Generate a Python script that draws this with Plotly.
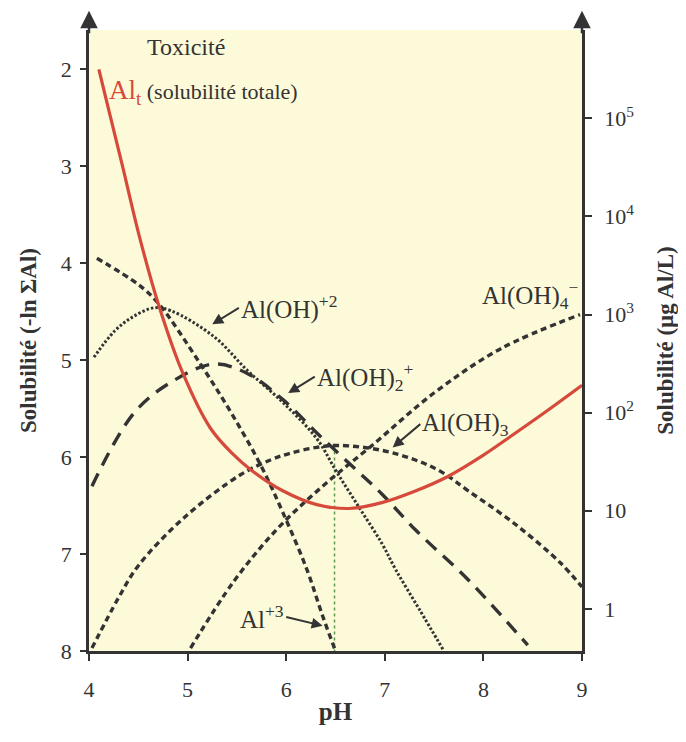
import plotly.graph_objects as go

# ---------------- data ----------------
ph_alt = [4.10, 4.20, 4.34, 4.51, 4.70, 4.95, 5.23, 5.45, 5.64, 5.97, 6.31, 6.64, 6.97, 7.31, 7.64, 8.00, 8.30, 8.65, 9.00]
val_alt = [2.00, 2.42, 3.00, 3.72, 4.41, 5.13, 5.70, 5.96, 6.13, 6.35, 6.49, 6.53, 6.47, 6.35, 6.20, 5.98, 5.77, 5.52, 5.26]

ph_al3 = [4.08, 4.50, 4.70, 5.13, 5.44, 5.74, 5.97, 6.21, 6.37, 6.50]
val_al3 = [3.95, 4.22, 4.41, 5.04, 5.54, 6.08, 6.58, 7.16, 7.64, 8.00]

ph_aloh = [4.05, 4.26, 4.45, 4.66, 4.83, 5.27, 5.61, 5.97, 6.31, 6.51, 6.74, 6.97, 7.11, 7.35, 7.60]
val_aloh = [4.97, 4.70, 4.55, 4.46, 4.49, 4.76, 5.11, 5.44, 5.81, 6.15, 6.52, 6.89, 7.16, 7.57, 8.00]

ph_aloh2 = [4.03, 4.46, 4.86, 5.27, 5.61, 5.97, 6.34, 6.74, 6.97, 7.31, 7.85, 8.38, 8.45]
val_aloh2 = [6.30, 5.54, 5.21, 5.04, 5.14, 5.41, 5.78, 6.16, 6.38, 6.75, 7.27, 7.86, 7.94]

ph_aloh3 = [4.03, 4.30, 4.50, 4.97, 5.54, 5.84, 6.04, 6.31, 6.54, 6.97, 7.31, 7.57, 7.85, 8.32, 8.78, 9.00]
val_aloh3 = [7.97, 7.45, 7.12, 6.62, 6.18, 6.03, 5.96, 5.90, 5.88, 5.93, 6.03, 6.15, 6.35, 6.69, 7.09, 7.34]

ph_aloh4 = [5.03, 5.47, 5.91, 6.37, 6.87, 7.51, 8.18, 8.98]
val_aloh4 = [7.97, 7.28, 6.74, 6.30, 5.88, 5.33, 4.88, 4.53]

ph_min = [6.49, 6.49]
val_min = [5.88, 8.00]

left_ticks = [2, 3, 4, 5, 6, 7, 8]
x_ticks = [4, 5, 6, 7, 8, 9]
right_tickvals = [1, 10, 100, 1000, 10000, 100000]
right_ticktext = ["1", "10", "10<sup>2</sup>", "10<sup>3</sup>", "10<sup>4</sup>", "10<sup>5</sup>"]

# ---------------- style ----------------
FONT = "Liberation Serif"
INK = "#333333"
RED = "#d64a3c"
BG = "#fcfad9"

fig = go.Figure()

def add_curve(x, y, dash, width, color=INK, name=""):
    fig.add_trace(go.Scatter(x=x, y=y, mode="lines", name=name,
                             line=dict(color=color, width=width, dash=dash,
                                       shape="spline", smoothing=1.0),
                             hoverinfo="skip", showlegend=False))

add_curve(ph_min, val_min, "dot", 1.5, color="#5d9a4f", name="pH min")
add_curve(ph_al3, val_al3, "6px,4px", 3.4, name="Al+3")
add_curve(ph_aloh, val_aloh, "2.5px,2px", 3.0, name="Al(OH)+2")
add_curve(ph_aloh2, val_aloh2, "14px,9px", 3.4, name="Al(OH)2+")
add_curve(ph_aloh3, val_aloh3, "6px,4px", 3.4, name="Al(OH)3")
add_curve(ph_aloh4, val_aloh4, "6px,4px", 3.4, name="Al(OH)4-")
add_curve(ph_alt, val_alt, "solid", 3.2, color=RED, name="Alt")

# invisible trace to activate the right log axis
fig.add_trace(go.Scatter(x=[9], y=[10], yaxis="y2", mode="markers",
                         marker=dict(opacity=0), hoverinfo="skip", showlegend=False))

ann = []
def label(x, y, text, size=25, xanchor="left", color=INK):
    ann.append(dict(x=x, y=y, xref="x", yref="y", text=text, showarrow=False,
                    xanchor=xanchor, yanchor="middle",
                    font=dict(family=FONT, size=size, color=color)))

def label_arrow(xt, yt, xh, yh, text, xanchor="left", size=25):
    ann.append(dict(x=xh, y=yh, ax=xt, ay=yt, xref="x", yref="y", axref="x", ayref="y",
                    text=text, xanchor=xanchor, yanchor="middle",
                    font=dict(family=FONT, size=size, color=INK),
                    showarrow=True, arrowhead=2, arrowsize=1.1,
                    arrowwidth=2, arrowcolor=INK, standoff=0, startstandoff=0))

label(4.98, 1.77, "Toxicité", size=24, xanchor="center")
label(4.18, 2.23, "<span style='color:%s;font-size:27px'>Al<sub>t</sub></span> (solubilité totale)" % RED, size=22)
label_arrow(5.52, 4.46, 5.25, 4.63, "Al(OH)<sup>+2</sup>")
label_arrow(6.29, 5.17, 6.02, 5.34, "Al(OH)<sub>2</sub><sup>+</sup>")
label_arrow(7.36, 5.66, 7.08, 5.90, "Al(OH)<sub>3</sub>")
label(7.97, 4.33, "Al(OH)<sub>4</sub><sup>−</sup>")
label_arrow(6.00, 7.65, 6.37, 7.74, "Al<sup>+3</sup>", xanchor="right")

# arrow heads at the top of both vertical axes
for xp in (0, 1):
    ann.append(dict(x=xp, y=1.031, xref="paper", yref="paper", ax=0, ay=24,
                    text="", showarrow=True, arrowhead=2, arrowsize=1.4,
                    arrowwidth=2.5, arrowcolor=INK))

fig.update_layout(
    width=678, height=726,
    margin=dict(l=81, r=99, t=22, b=71),
    paper_bgcolor="white", plot_bgcolor=BG,
    font=dict(family=FONT, color=INK, size=14),
    annotations=ann,
    xaxis=dict(range=[4, 9], tickvals=x_ticks, ticks="outside", ticklen=7, tickwidth=2,
               tickcolor=INK, showline=True, linecolor=INK, linewidth=2.5,
               showgrid=False, zeroline=False, ticklabelstandoff=10,
               tickfont=dict(family=FONT, size=22, color=INK),
               title=dict(text="<b>pH</b>", font=dict(family=FONT, size=25, color=INK), standoff=2)),
    yaxis=dict(range=[8, 1.595], tickvals=left_ticks, ticks="outside", ticklen=6, tickwidth=2,
               tickcolor=INK, showline=True, linecolor=INK, linewidth=2.5,
               showgrid=False, zeroline=False, ticklabelstandoff=4,
               tickfont=dict(family=FONT, size=22, color=INK),
               title=dict(text="<b>Solubilité (-ln ΣAl)</b>", font=dict(family=FONT, size=23, color=INK), standoff=18)),
    yaxis2=dict(type="log", range=[-0.43, 5.9], overlaying="y", side="right", anchor="x",
                tickvals=right_tickvals, ticktext=right_ticktext,
                ticks="outside", ticklen=7, tickwidth=2, tickcolor=INK,
                showline=True, linecolor=INK, linewidth=2.5,
                showgrid=False, zeroline=False, ticklabelstandoff=8,
                tickfont=dict(family=FONT, size=22, color=INK),
                title=dict(text="<b>Solubilité (µg Al/L)</b>", font=dict(family=FONT, size=23, color=INK), standoff=24)),
)

fig.write_html("out.html")
